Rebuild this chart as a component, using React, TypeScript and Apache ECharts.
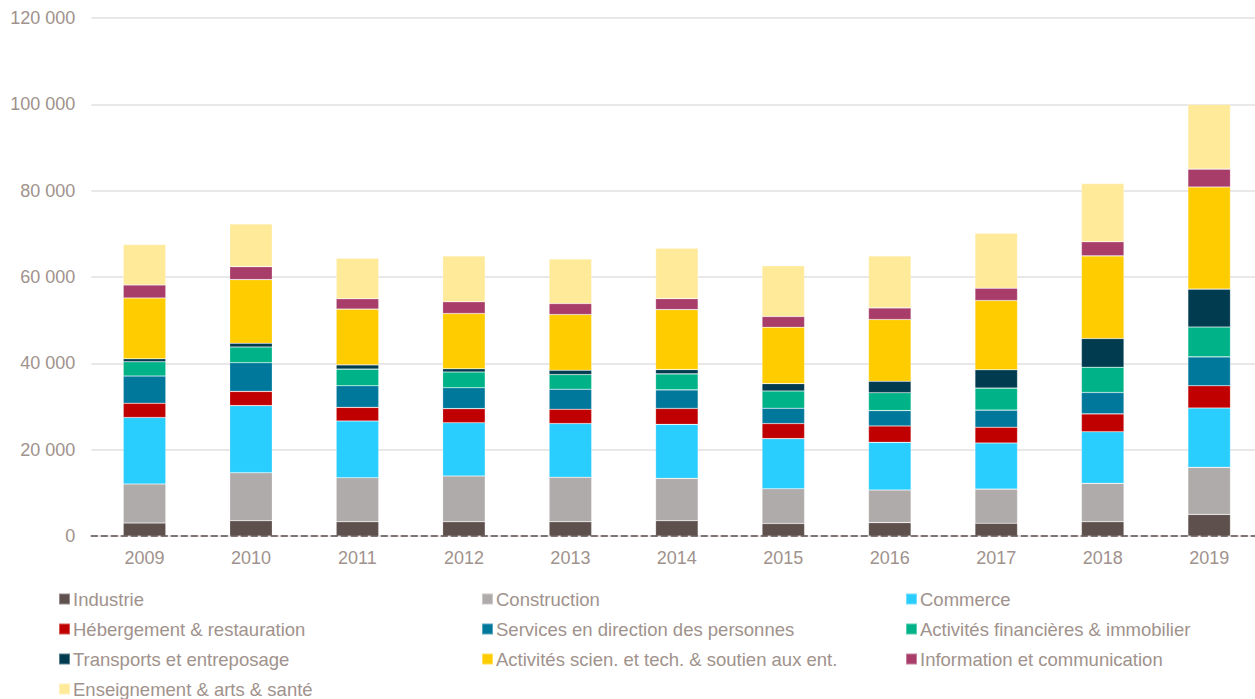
import React, { useEffect, useRef } from "react";
import * as echarts from "echarts";

const years = ["2009", "2010", "2011", "2012", "2013", "2014", "2015", "2016", "2017", "2018", "2019"];

const industrie = [3000, 3550, 3300, 3300, 3300, 3550, 2900, 3100, 2950, 3300, 5000];
const construction = [9050, 11100, 10200, 10600, 10300, 9800, 8050, 7550, 7900, 8900, 10900];
const commerce = [15400, 15550, 13150, 12350, 12450, 12500, 11600, 11050, 10700, 11950, 13750];
const hebergement = [3300, 3300, 3150, 3250, 3300, 3700, 3500, 3800, 3650, 4150, 5150];
const services = [6300, 6650, 5000, 4850, 4650, 4300, 3550, 3550, 3950, 4950, 6700];
const financieres = [3300, 3650, 3850, 3650, 3400, 3700, 4000, 4150, 5100, 5850, 6900];
const transports = [700, 850, 1000, 750, 1000, 1000, 1700, 2650, 4250, 6650, 8800];
const scientifiques = [14100, 14750, 12900, 12800, 12900, 13900, 13050, 14300, 16050, 19150, 23650];
const information = [3000, 3000, 2400, 2700, 2550, 2550, 2500, 2700, 2850, 3250, 4150];
const enseignement = [9400, 9900, 9400, 10650, 10350, 11650, 11750, 12050, 12750, 13500, 15000];

const seriesDefs = [
  { name: "Industrie", data: industrie, color: "#5E504D" },
  { name: "Construction", data: construction, color: "#AFABAA" },
  { name: "Commerce", data: commerce, color: "#29CEFF" },
  { name: "Hébergement & restauration", data: hebergement, color: "#C00000" },
  { name: "Services en direction des personnes", data: services, color: "#00789C" },
  { name: "Activités financières & immobilier", data: financieres, color: "#00B287" },
  { name: "Transports et entreposage", data: transports, color: "#003B4F" },
  { name: "Activités scien. et tech. & soutien aux ent.", data: scientifiques, color: "#FFCC00" },
  { name: "Information et communication", data: information, color: "#A83D6A" },
  { name: "Enseignement & arts & santé", data: enseignement, color: "#FFEA9A" },
];

const legendColumns = [
  ["Industrie", "Hébergement & restauration", "Transports et entreposage", "Enseignement & arts & santé"],
  ["Construction", "Services en direction des personnes", "Activités scien. et tech. & soutien aux ent."],
  ["Commerce", "Activités financières & immobilier", "Information et communication"],
];
const legendLefts = [58, 481, 905];

const TEXT = "#A0928C";
const FONT = "Liberation Sans, Arial, sans-serif";

export default function App() {
  const ref = useRef<HTMLDivElement>(null);
  useEffect(() => {
    if (!ref.current) return;
    const chart = echarts.init(ref.current, undefined, { renderer: "svg" });
    chart.setOption({
      animation: false,
      textStyle: { fontFamily: FONT },
      grid: { left: 91.3, right: 7.6, top: 18, bottom: 780 - 536, containLabel: false },
      legend: legendColumns.map((col, i) => ({
        data: col,
        orient: "vertical",
        left: legendLefts[i],
        top: 589,
        padding: 0,
        itemWidth: 11,
        itemHeight: 11,
        itemGap: 10,
        icon: "rect",
        selectedMode: false,
        textStyle: { color: TEXT, fontSize: 18.5, lineHeight: 20, fontFamily: FONT, padding: [0, 0, 0, -2] },
      })),
      xAxis: {
        type: "category",
        data: years,
        axisTick: { show: false },
        axisLine: { show: true, lineStyle: { color: "#5B4F4B", width: 1.5, type: [6, 4] } },
        axisLabel: { color: TEXT, fontSize: 18, margin: 13, fontFamily: FONT },
        z: 10,
      },
      yAxis: {
        type: "value",
        min: 0,
        max: 120000,
        interval: 20000,
        axisLine: { show: false },
        axisTick: { show: false },
        axisLabel: {
          color: TEXT,
          fontSize: 18,
          margin: 16,
          fontFamily: FONT,
          formatter: (v: number) => String(v).replace(/\B(?=(\d{3})+(?!\d))/g, " "),
        },
        splitLine: { lineStyle: { color: "#E3DFDF", width: 1.5 } },
      },
      series: seriesDefs.map((s) => ({
        name: s.name,
        type: "bar",
        stack: "total",
        data: s.data,
        barWidth: "40%",
        itemStyle: { color: s.color, borderColor: "rgba(255,255,255,0.35)", borderWidth: 0.6 },
      })),
    });
    return () => chart.dispose();
  }, []);
  return (
    <div style={{ position: "fixed", left: 0, top: 0, width: 1255, height: 699, overflow: "hidden", background: "#fff" }}>
      <div ref={ref} style={{ width: 1270, height: 780 }} />
    </div>
  );
}
